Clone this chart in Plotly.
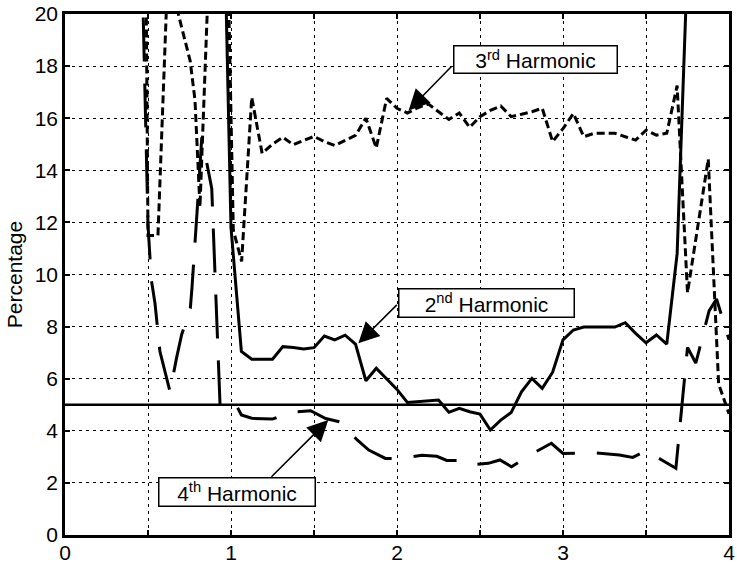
import plotly.graph_objects as go

# ---- data ----
limit_x = [0, 4]
limit_y = [5, 5]

h2_x = [0.9375, 1.0, 1.0625, 1.125, 1.25, 1.3125, 1.375, 1.4375, 1.5, 1.5625, 1.625, 1.6875,
        1.75, 1.8125, 1.875, 1.9375, 2.0, 2.0625, 2.125, 2.1875, 2.25, 2.3125, 2.375, 2.4375,
        2.5, 2.5625, 2.625, 2.6875, 2.75, 2.8125, 2.875, 2.9375, 3.0, 3.0625, 3.125, 3.1875,
        3.25, 3.3125, 3.375, 3.4375, 3.5, 3.5625, 3.625, 3.6875, 3.75, 3.875, 4.0]
h2_y = [30, 11.8, 7.05, 6.75, 6.75, 7.23, 7.2, 7.14, 7.19, 7.64, 7.49, 7.67,
        7.33, 5.92, 6.40, 6.0, 5.59, 5.09, 5.12, 5.14, 5.18, 4.71, 4.86, 4.73,
        4.64, 4.03, 4.41, 4.70, 5.50, 6.01, 5.63, 6.25, 7.49, 7.87, 7.98, 7.98,
        7.98, 7.98, 8.15, 7.74, 7.38, 7.68, 7.33, 10.8, 22, 26, 25]

h3_x = [0.478, 0.50, 0.56, 0.59, 0.619, 0.754, 0.783, 0.813, 0.825, 0.88, 0.975, 1.014,
        1.064, 1.125, 1.1875, 1.25, 1.3125, 1.375, 1.4375, 1.5, 1.5625, 1.625, 1.6875,
        1.75, 1.8125, 1.875, 1.9375, 2.0, 2.0625, 2.125, 2.1875, 2.25, 2.3125, 2.375,
        2.4375, 2.5, 2.5625, 2.625, 2.6875, 2.75, 2.8125, 2.875, 2.9375, 3.0, 3.0625,
        3.125, 3.1875, 3.25, 3.3125, 3.375, 3.4375, 3.5, 3.5625, 3.625, 3.6875, 3.75,
        3.8125, 3.875, 3.9375, 4.0]
h3_y = [30, 11.5, 11.5, 16.2, 21.6, 18.2, 16.7, 12.6, 15.0, 24, 24, 11.7,
        10.5, 16.8, 14.65, 15.0, 15.27, 14.98, 15.15, 15.3, 15.1, 14.95, 15.15,
        15.34, 16.0, 14.86, 16.76, 16.38, 16.2, 16.4, 16.55, 16.25, 15.95, 16.2,
        15.65, 16.06, 16.3, 16.47, 16.06, 16.15, 16.25, 16.38, 15.1, 15.6, 16.18,
        15.29, 15.42, 15.42, 15.42, 15.29, 15.16, 15.54, 15.35, 15.42, 17.25, 9.3,
        11.9, 14.43, 5.8, 4.65]

h4_x = [0.435, 0.50, 0.52, 0.542, 0.572, 0.633, 0.672, 0.703, 0.755, 0.765, 0.795,
        0.824, 0.884, 0.905, 0.934, 1.02, 1.0625, 1.125, 1.25, 1.3125, 1.39, 1.48,
        1.57, 1.66, 1.76, 1.83, 1.93, 2.01, 2.15, 2.24, 2.30, 2.37, 2.42, 2.55, 2.62,
        2.69, 2.80, 2.93, 3.0, 3.19, 3.34, 3.42, 3.50, 3.595, 3.68, 3.75, 3.80, 3.88,
        3.925, 4.0]
h4_y = [30, 11.9, 9.8, 8.9, 7.04, 5.5, 6.8, 7.7, 8.7, 9.5, 12.35,
        15.27, 13.3, 9.6, 5.0, 5.12, 4.61, 4.48, 4.45, 4.6, 4.73, 4.77,
        4.47, 4.34, 3.65, 3.26, 2.94, 2.94, 3.06, 3.02, 2.86, 2.86, 2.69, 2.75, 2.88,
        2.62, 3.07, 3.52, 3.13, 3.16, 3.07, 2.98, 3.23, 2.88, 2.56, 7.2, 6.6, 8.6,
        9.06, 7.5]

x_ticks = [0, 1, 2, 3, 4]
y_ticks = [0, 2, 4, 6, 8, 10, 12, 14, 16, 18, 20]

FONT = "Liberation Sans, Arial, Helvetica, sans-serif"

fig = go.Figure()
fig.add_trace(go.Scatter(x=limit_x, y=limit_y, mode="lines",
                         line=dict(color="black", width=2.5), showlegend=False))
fig.add_trace(go.Scatter(x=h4_x, y=h4_y, mode="lines",
                         line=dict(color="black", width=3, dash="44px,22px"), showlegend=False))
fig.add_trace(go.Scatter(x=h3_x, y=h3_y, mode="lines",
                         line=dict(color="black", width=3, dash="8px,4px"), showlegend=False))
fig.add_trace(go.Scatter(x=h2_x, y=h2_y, mode="lines",
                         line=dict(color="black", width=3), showlegend=False))

common = dict(showgrid=True, gridcolor="black", gridwidth=1.3, griddash="3px,4px",
              showline=True, linecolor="black", linewidth=2.5, mirror="ticks",
              ticks="inside", ticklen=5, tickwidth=1.5, tickcolor="black",
              zeroline=False, automargin=False, ticklabeloverflow="allow",
              tickfont=dict(family=FONT, size=21, color="black"))

fig.update_xaxes(range=[0, 4], tickvals=x_ticks, ticklabelstandoff=-3,
                 minor=dict(dtick=0.5, tick0=0, showgrid=True, gridcolor="black",
                            gridwidth=1.3, griddash="3px,4px", ticks="inside", ticklen=5,
                            tickcolor="black"),
                 **common)
fig.update_yaxes(range=[0, 20], tickvals=y_ticks,
                 title=dict(text="Percentage", font=dict(family=FONT, size=21, color="black"),
                            standoff=7), **common)

box = dict(showarrow=False, bgcolor="white", bordercolor="black", borderwidth=1.5,
           font=dict(family=FONT, size=21, color="black"), xref="x", yref="y")
fig.add_annotation(x=2.834, y=18.27, text="3<sup>rd</sup> Harmonic", width=160, height=24,
                   borderpad=1, **box)
fig.add_annotation(x=2.539, y=8.925, text="2<sup>nd</sup> Harmonic", width=172, height=25,
                   borderpad=1, **box)
fig.add_annotation(x=1.036, y=1.67, text="4<sup>th</sup> Harmonic", width=153, height=25,
                   borderpad=1, **box)

arrow = dict(text="", showarrow=True, arrowhead=2, arrowsize=2.6, arrowwidth=1.6,
             arrowcolor="black", xref="x", yref="y", axref="x", ayref="y", standoff=0)
fig.add_annotation(x=2.07, y=16.3, ax=2.337, ay=18.04, **arrow)
fig.add_annotation(x=1.767, y=7.36, ax=2.008, ay=8.89, **arrow)
fig.add_annotation(x=1.586, y=4.41, ax=1.235, ay=2.18, **arrow)

fig.update_layout(width=737, height=567, margin=dict(l=65, r=8, t=14, b=32),
                  plot_bgcolor="white", paper_bgcolor="white",
                  font=dict(family=FONT, color="black"))

# remove the default page margin so the figure fills the 737x567 window exactly
fig.write_html("out.html", config={"displayModeBar": False},
               post_script="document.body.style.margin='0';document.body.style.overflow='hidden';")
